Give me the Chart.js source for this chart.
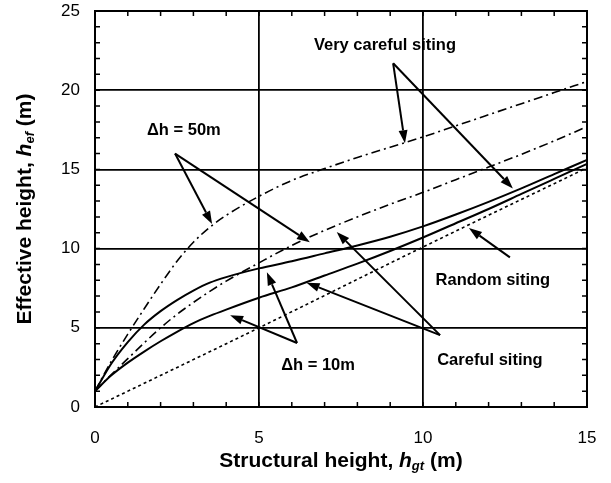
<!DOCTYPE html>
<html>
<head>
<meta charset="utf-8">
<script src="https://cdn.jsdelivr.net/npm/chart.js@4/dist/chart.umd.min.js"></script>
<style>
    body { margin: 0; background: #fff; }
    #wrap { width: 611px; height: 483px; }
</style>
</head>
<body>
<div id="wrap"><canvas id="heightChart" width="611" height="483"></canvas></div>
<script>
// structural height (m) at which the curves were read
const structHeight = [0, 0.5, 1, 1.5, 2, 2.5, 3, 3.5, 4, 5, 6, 7, 8, 9, 10, 11, 12, 13, 14, 15];

// effective height (m)
const dashDotUpper = [1, 2.9, 4.6, 6.2, 7.75, 9.2, 10.4, 11.35, 12.1, 13.3, 14.3, 15.05, 15.75, 16.4, 17.05, 17.75, 18.45, 19.15, 19.85, 20.55];
const dashDotLower = [1, 2.05, 3.05, 4.05, 5.0, 5.85, 6.6, 7.3, 7.95, 9.1, 10.2, 11.15, 12.0, 12.8, 13.55, 14.35, 15.15, 15.95, 16.8, 17.7];
const solidUpper = [1, 2.75, 4.1, 5.2, 6.05, 6.75, 7.35, 7.85, 8.2, 8.75, 9.2, 9.7, 10.2, 10.75, 11.4, 12.15, 12.95, 13.8, 14.7, 15.6];
const solidLower = [1, 2.0, 2.8, 3.5, 4.15, 4.75, 5.3, 5.75, 6.15, 6.9, 7.55, 8.3, 9.05, 9.85, 10.7, 11.6, 12.5, 13.45, 14.4, 15.35];

// dotted 1:1 reference line
const refX = [0, 5, 10, 15];
const refY = [0, 5.0, 10.1, 15.1];

// tick labels
const xTicks = [0, 5, 10, 15];
const yTicks = [0, 5, 10, 15, 20, 25];

// annotation texts and arrows (data units)
const notes = [
    { text: 'Very careful siting', x: 8.84, y: 22.84 },
    { text: '\u0394h = 50m', x: 2.71, y: 17.48 },
    { text: 'Random siting', x: 12.13, y: 8.0 },
    { text: 'Careful siting', x: 12.04, y: 2.97 },
    { text: '\u0394h = 10m', x: 6.8, y: 2.65 }
];
const arrows = [
    [9.09, 21.7, 9.45, 16.65], [9.09, 21.7, 12.74, 13.8],
    [2.44, 16.0, 3.57, 11.55], [2.44, 16.0, 6.55, 10.4],
    [12.65, 9.45, 11.4, 11.3],
    [10.52, 4.54, 6.45, 7.85], [10.52, 4.54, 7.37, 11.05],
    [6.16, 4.04, 5.24, 8.5], [6.16, 4.04, 4.12, 5.8]
];

const toPoints = (xs, ys) => xs.map((x, i) => ({ x: x, y: ys[i] }));

function drawRich(ctx, runs, cx, cy, angle) {
    ctx.save();
    ctx.translate(cx, cy);
    ctx.rotate(angle);
    let total = 0;
    runs.forEach(r => { ctx.font = r.font; r.w = ctx.measureText(r.t).width; total += r.w; });
    let xPos = -total / 2;
    ctx.textBaseline = 'middle';
    ctx.textAlign = 'left';
    ctx.fillStyle = '#000';
    runs.forEach(r => {
        ctx.font = r.font;
        ctx.fillText(r.t, xPos, r.dy || 0);
        xPos += r.w;
    });
    ctx.restore();
}

function drawArrow(ctx, x1, y1, x2, y2) {
    const ang = Math.atan2(y2 - y1, x2 - x1);
    const len = 13, half = 4.5;
    const bx = x2 - len * Math.cos(ang), by = y2 - len * Math.sin(ang);
    ctx.beginPath();
    ctx.moveTo(x1, y1);
    ctx.lineTo(bx, by);
    ctx.stroke();
    ctx.beginPath();
    ctx.moveTo(x2, y2);
    ctx.lineTo(bx + half * Math.sin(ang), by - half * Math.cos(ang));
    ctx.lineTo(bx - half * Math.sin(ang), by + half * Math.cos(ang));
    ctx.closePath();
    ctx.fill();
}

const overlay = {
    id: 'overlay',
    afterDraw(chart) {
        const { ctx, chartArea: a, scales: { x, y } } = chart;
        ctx.save();
        ctx.strokeStyle = '#000';
        ctx.fillStyle = '#000';

        // frame
        ctx.lineWidth = 2;
        ctx.strokeRect(a.left, a.top, a.right - a.left, a.bottom - a.top);

        // minor ticks, inward on all four sides
        ctx.lineWidth = 1.5;
        ctx.beginPath();
        for (let v = 1; v < 15; v++) {
            const px = x.getPixelForValue(v);
            ctx.moveTo(px, a.bottom); ctx.lineTo(px, a.bottom - 5);
            ctx.moveTo(px, a.top); ctx.lineTo(px, a.top + 5);
        }
        for (let v = 1; v < 25; v++) {
            const py = y.getPixelForValue(v);
            ctx.moveTo(a.left, py); ctx.lineTo(a.left + 5, py);
            ctx.moveTo(a.right, py); ctx.lineTo(a.right - 5, py);
        }
        ctx.stroke();

        // arrows
        ctx.lineWidth = 2;
        arrows.forEach(ar => {
            drawArrow(ctx, x.getPixelForValue(ar[0]), y.getPixelForValue(ar[1]),
                x.getPixelForValue(ar[2]), y.getPixelForValue(ar[3]));
        });

        // annotation labels
        ctx.font = 'bold 16.5px "Liberation Sans", Arial, sans-serif';
        ctx.textAlign = 'center';
        ctx.textBaseline = 'middle';
        notes.forEach(n => {
            ctx.fillText(n.text, x.getPixelForValue(n.x), y.getPixelForValue(n.y));
        });

        // axis titles
        const big = 'bold 21px "Liberation Sans", Arial, sans-serif';
        const ital = 'italic bold 21px "Liberation Sans", Arial, sans-serif';
        const sub = 'italic bold 13px "Liberation Sans", Arial, sans-serif';
        drawRich(ctx, [
            { t: 'Structural height, ', font: big },
            { t: 'h', font: ital },
            { t: 'gt', font: sub, dy: 5 },
            { t: ' (m)', font: big }
        ], (a.left + a.right) / 2, 461, 0);
        drawRich(ctx, [
            { t: 'Effective height, ', font: big },
            { t: 'h', font: ital },
            { t: 'ef', font: sub, dy: 5 },
            { t: ' (m)', font: big }
        ], 25, (a.top + a.bottom) / 2, -Math.PI / 2);

        ctx.restore();
    }
};

const lineBase = {
    borderColor: '#000',
    pointRadius: 0,
    fill: false,
    cubicInterpolationMode: 'monotone'
};

new Chart(document.getElementById('heightChart'), {
    type: 'line',
    data: {
        datasets: [
            Object.assign({ label: 'dash-dot upper', data: toPoints(structHeight, dashDotUpper), borderWidth: 1.6, borderDash: [9, 4, 2, 4] }, lineBase),
            Object.assign({ label: 'dash-dot lower', data: toPoints(structHeight, dashDotLower), borderWidth: 1.6, borderDash: [9, 4, 2, 4] }, lineBase),
            Object.assign({ label: 'solid upper', data: toPoints(structHeight, solidUpper), borderWidth: 2 }, lineBase),
            Object.assign({ label: 'solid lower', data: toPoints(structHeight, solidLower), borderWidth: 2 }, lineBase),
            Object.assign({ label: '1:1', data: toPoints(refX, refY), borderWidth: 1.6, borderDash: [3, 3] }, lineBase)
        ]
    },
    options: {
        responsive: false,
        animation: false,
        devicePixelRatio: 1,
        layout: { padding: { top: 11, right: 24, left: 0, bottom: 0 } },
        plugins: {
            legend: { display: false },
            tooltip: { enabled: false }
        },
        scales: {
            x: {
                type: 'linear',
                min: 0,
                max: 15,
                afterBuildTicks: (s) => { s.ticks = xTicks.map(v => ({ value: v })); },
                afterFit: (s) => { s.height = 76; s.paddingLeft = 0; s.paddingRight = 0; },
                grid: { color: '#000', lineWidth: 1.8, drawTicks: false },
                border: { color: '#000', width: 2 },
                ticks: {
                    padding: 21,
                    color: '#000',
                    font: { family: '"Liberation Sans", Arial, sans-serif', size: 17 }
                }
            },
            y: {
                type: 'linear',
                min: 0,
                max: 25,
                afterBuildTicks: (s) => { s.ticks = yTicks.map(v => ({ value: v })); },
                afterFit: (s) => { s.width = 95; s.paddingTop = 0; s.paddingBottom = 0; },
                grid: { color: '#000', lineWidth: 1.8, drawTicks: false },
                border: { color: '#000', width: 2 },
                ticks: {
                    padding: 15,
                    color: '#000',
                    font: { family: '"Liberation Sans", Arial, sans-serif', size: 17 }
                }
            }
        }
    },
    plugins: [overlay]
});
</script>
</body>
</html>
